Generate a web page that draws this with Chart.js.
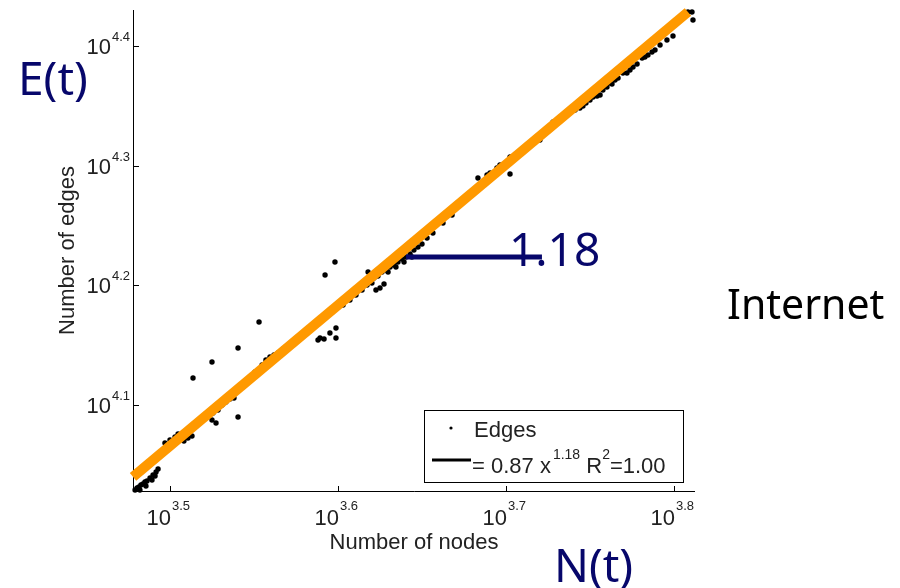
<!DOCTYPE html>
<html>
<head>
<meta charset="utf-8">
<title>Internet: edges vs nodes</title>
<script src="https://cdn.jsdelivr.net/npm/chart.js@4.4.1/dist/chart.umd.min.js"></script>
<style>
  body { margin: 0; background: #fff; }
  #chart { display: block; }
</style>
</head>
<body>
<canvas id="chart" width="900" height="588"></canvas>
<script>
// values, as exponents (log10 of nodes / edges)
const nodesExp = [
  3.4792, 3.4804, 3.4815, 3.4827, 3.4839, 3.4851, 3.4863, 3.4881, 3.4899, 3.4917, 3.4929,
  3.4821, 3.4857, 3.4893, 3.4911,
  3.4970, 3.5000, 3.5030, 3.5060, 3.5083, 3.5107, 3.5131, 3.5048,
  3.5161, 3.5196, 3.5226, 3.5256, 3.5286, 3.5310, 3.5333, 3.5357, 3.5381, 3.5250, 3.5274, 3.5405,
  3.5137, 3.5250, 3.5405, 3.5530, 3.5923, 3.5982,
  3.5446, 3.5476, 3.5506,
  3.5548, 3.5571, 3.5595, 3.5619, 3.5643, 3.5673, 3.5702, 3.5732, 3.5762, 3.5792, 3.5821, 3.5851, 3.5881,
  3.5881, 3.5893, 3.5917, 3.5952, 3.5988, 3.5988,
  3.6030, 3.6071, 3.6107, 3.6143,
  3.6173, 3.6190, 3.6214, 3.6238, 3.6262, 3.6286, 3.6310, 3.6333, 3.6357, 3.6381, 3.6405, 3.6429,
  3.6452, 3.6476, 3.6226, 3.6250, 3.6274, 3.6179,
  3.6202, 3.6298, 3.6345, 3.6393, 3.6440,
  3.6500, 3.6530, 3.6565, 3.6625, 3.6679, 3.6685,
  3.6833, 3.6887, 3.6946, 3.7024, 3.7024, 3.6905, 3.6964,
  3.7125, 3.7202, 3.7280, 3.7304, 3.7321, 3.7363, 3.7381, 3.7411, 3.7440, 3.7476, 3.7500, 3.7518,
  3.7542, 3.7560, 3.7577, 3.7601, 3.7619, 3.7649, 3.7667, 3.7696, 3.7720, 3.7738, 3.7756, 3.7780,
  3.7810, 3.7845, 3.7887, 3.7917, 3.7958, 3.7994, 3.8083, 3.8107, 3.8113,
  3.7232, 3.7256, 3.7339, 3.7458, 3.7631, 3.7827, 3.7869
];
const edgesExp = [
  4.0289, 4.0305, 4.0314, 4.0331, 4.0339, 4.0356, 4.0364, 4.0389, 4.0414, 4.0439, 4.0464,
  4.0289, 4.0322, 4.0372, 4.0406,
  4.0682, 4.0707, 4.0732, 4.0715, 4.0699, 4.0724, 4.0741, 4.0757,
  4.0833, 4.0874, 4.0916, 4.0933, 4.0958, 4.1000, 4.1025, 4.1050, 4.1059, 4.0874, 4.0849, 4.0900,
  4.1226, 4.1360, 4.1477, 4.1695, 4.2088, 4.2197,
  4.1184, 4.1226, 4.1276,
  4.1335, 4.1377, 4.1402, 4.1418, 4.1435, 4.1469, 4.1494, 4.1527, 4.1561, 4.1586, 4.1619, 4.1644, 4.1686,
  4.1544, 4.1561, 4.1552, 4.1603, 4.1644, 4.1561,
  4.1837, 4.1879, 4.1921, 4.1962,
  4.2004, 4.2038, 4.2063, 4.2079, 4.2113, 4.2130, 4.2155, 4.2172, 4.2197, 4.2222, 4.2238, 4.2264,
  4.2297, 4.2322, 4.1962, 4.1979, 4.2013, 4.2113,
  4.2021, 4.2113, 4.2155, 4.2197, 4.2238,
  4.2347, 4.2397, 4.2439, 4.2523, 4.2590, 4.2657,
  4.2900, 4.2925, 4.2983, 4.3075, 4.2933, 4.2941, 4.3008,
  4.3159, 4.3218, 4.3368, 4.3385, 4.3402, 4.3444, 4.3452, 4.3469, 4.3485, 4.3527, 4.3552, 4.3577,
  4.3586, 4.3594, 4.3636, 4.3661, 4.3695, 4.3720, 4.3736, 4.3778, 4.3778, 4.3803, 4.3828, 4.3854,
  4.3904, 4.3929, 4.3971, 4.4013, 4.4054, 4.4088, 4.4289, 4.4289, 4.4222,
  4.3276, 4.3318, 4.3418, 4.3502, 4.3686, 4.3912, 4.3954
];

// fitted power law (orange), its two ends
const fitNodesExp = [3.4780, 3.8083];
const fitEdgesExp = [4.0398, 4.4289];

// slope marker (navy bar)
const markNodesExp = [3.6405, 3.7214];
const markEdgesExp = [4.2238, 4.2238];

// axes
const xMinExp = 3.47798, xMaxExp = 3.8125;
const yMinExp = 4.02803, yMaxExp = 4.43054;
const xTickExp = ['3.5', '3.6', '3.7', '3.8'];
const yTickExp = ['4.1', '4.2', '4.3', '4.4'];

// legend text
const fitCoef = '0.87';
const fitPower = '1.18';
const fitR2 = '1.00';

const NAVY = '#07076b';
const ORANGE = '#ff9900';
const INK = '#222';
const SANS = '"Liberation Sans", Arial, sans-serif';
const CAL = '"Noto Sans", "Open Sans", sans-serif';

const toPoints = (xs, ys) => xs.map((v, i) => ({ x: 10 ** v, y: 10 ** ys[i] }));

const decor = {
  id: 'decor',
  beforeDatasetsDraw(chart) {
    const { ctx, chartArea: a, scales: { x, y } } = chart;
    ctx.save();
    ctx.strokeStyle = '#000';
    ctx.lineWidth = 1;
    ctx.beginPath();
    ctx.moveTo(a.left + 0.5, a.top);
    ctx.lineTo(a.left + 0.5, a.bottom + 0.5);
    ctx.lineTo(a.right, a.bottom + 0.5);
    // inward tick marks
    xTickExp.forEach(t => {
      const px = Math.round(x.getPixelForValue(10 ** +t)) + 0.5;
      ctx.moveTo(px, a.bottom);
      ctx.lineTo(px, a.bottom - 5);
    });
    yTickExp.forEach(t => {
      const py = Math.round(y.getPixelForValue(10 ** +t)) + 0.5;
      ctx.moveTo(a.left, py);
      ctx.lineTo(a.left + 6, py);
    });
    ctx.stroke();
    ctx.restore();
  },
  afterDatasetsDraw(chart) {
    const { ctx, chartArea: a, scales: { x, y } } = chart;
    ctx.save();
    ctx.fillStyle = INK;
    ctx.textBaseline = 'alphabetic';

    // tick labels 10^k
    xTickExp.forEach(t => {
      const px = x.getPixelForValue(10 ** +t);
      ctx.font = '22px ' + SANS;
      ctx.textAlign = 'right';
      ctx.fillText('10', px + 1, 525);
      ctx.font = '13px ' + SANS;
      ctx.textAlign = 'left';
      ctx.fillText(t, px + 2, 510);
    });
    yTickExp.forEach(t => {
      const py = y.getPixelForValue(10 ** +t);
      ctx.font = '13px ' + SANS;
      ctx.textAlign = 'right';
      ctx.fillText(t, 130, py - 5);
      const w = ctx.measureText(t).width;
      ctx.font = '22px ' + SANS;
      ctx.fillText('10', 130 - w - 1, py + 8);
    });

    // axis titles
    ctx.font = '22px ' + SANS;
    ctx.textAlign = 'center';
    ctx.fillText('Number of nodes', (a.left + a.right) / 2, 549);
    ctx.save();
    ctx.translate(74, (a.top + a.bottom) / 2);
    ctx.rotate(-Math.PI / 2);
    ctx.fillText('Number of edges', 0, 0);
    ctx.restore();

    // legend box
    ctx.fillStyle = '#fff';
    ctx.fillRect(424, 410, 259, 72);
    ctx.strokeStyle = '#000';
    ctx.lineWidth = 1;
    ctx.strokeRect(424.5, 410.5, 259, 72);
    ctx.fillStyle = '#000';
    ctx.beginPath();
    ctx.arc(451, 428, 1.6, 0, Math.PI * 2);
    ctx.fill();
    ctx.lineWidth = 3;
    ctx.beginPath();
    ctx.moveTo(432, 460);
    ctx.lineTo(471, 460);
    ctx.stroke();

    ctx.fillStyle = INK;
    ctx.textAlign = 'left';
    ctx.font = '22px ' + SANS;
    ctx.fillText('Edges', 474, 437);
    let cx = 472;
    const put = (s, size, base) => {
      ctx.font = size + 'px ' + SANS;
      ctx.fillText(s, cx, base);
      cx += ctx.measureText(s).width;
    };
    put('= ' + fitCoef + ' x', 22, 473);
    cx += 2;
    put(fitPower, 14, 459);
    put(' R', 22, 473);
    put('2', 14, 459);
    put('=' + fitR2, 22, 473);

    // annotations
    ctx.fillStyle = NAVY;
    ctx.font = '46px ' + CAL;
    ctx.fillText('E(t)', 18, 95);
    ctx.fillText('N(t)', 554, 582);
    const endX = x.getPixelForValue(10 ** markNodesExp[1]);
    const endY = y.getPixelForValue(10 ** markEdgesExp[1]);
    ctx.font = '46px ' + CAL;
    ctx.fillText(fitPower, endX - 33, endY + 9);
    ctx.fillStyle = '#000';
    ctx.font = '41px ' + CAL;
    ctx.fillText('Internet', 727, 319);
    ctx.restore();
  }
};

new Chart(document.getElementById('chart'), {
  type: 'scatter',
  data: {
    datasets: [
      {
        label: 'slope',
        data: toPoints(markNodesExp, markEdgesExp),
        showLine: true,
        borderColor: NAVY,
        borderWidth: 5,
        pointRadius: 0,
        order: 0,
        clip: false
      },
      {
        label: 'fit',
        data: toPoints(fitNodesExp, fitEdgesExp),
        showLine: true,
        borderColor: ORANGE,
        borderWidth: 10,
        pointRadius: 0,
        order: 1,
        clip: false
      },
      {
        label: 'Edges',
        data: toPoints(nodesExp, edgesExp),
        backgroundColor: '#000',
        borderWidth: 0,
        pointRadius: 2.7,
        order: 2,
        clip: false
      }
    ]
  },
  options: {
    responsive: false,
    animation: false,
    layout: { padding: { left: 133, top: 10, right: 205, bottom: 97 } },
    plugins: { legend: { display: false }, tooltip: { enabled: false } },
    scales: {
      x: { type: 'logarithmic', display: false, min: 10 ** xMinExp, max: 10 ** xMaxExp },
      y: { type: 'logarithmic', display: false, min: 10 ** yMinExp, max: 10 ** yMaxExp }
    }
  },
  plugins: [decor]
});
</script>
</body>
</html>
